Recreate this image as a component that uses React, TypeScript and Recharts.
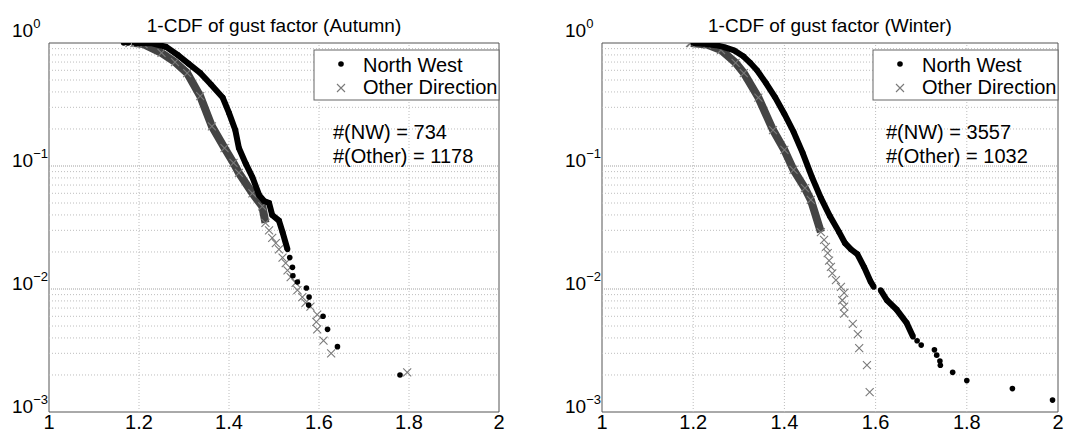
import React from 'react';
import { ScatterChart, Scatter, XAxis, YAxis, ReferenceLine, ReferenceArea } from 'recharts';

const FONT = '"Liberation Sans", Arial, sans-serif';

// ---------- data (x = gust factor, y = 1-CDF) ----------
const autumnNwBody: [number, number][] = [
  [1.19, 1.0], [1.229, 0.995], [1.26, 0.93], [1.286, 0.8], [1.31, 0.68], [1.336, 0.57],
  [1.36, 0.46], [1.386, 0.36], [1.4, 0.27], [1.414, 0.196], [1.422, 0.14], [1.437, 0.105],
  [1.452, 0.081], [1.467, 0.058], [1.478, 0.052], [1.489, 0.05], [1.496, 0.04], [1.511, 0.036],
  [1.519, 0.029], [1.53, 0.021],
];
const autumnNwSparse: [number, number][] = [
  [1.166, 1.0], [1.176, 1.0], [1.535, 0.018], [1.541, 0.015], [1.542, 0.0128], [1.552, 0.0114],
  [1.572, 0.0102], [1.578, 0.0086], [1.577, 0.0074], [1.609, 0.006], [1.619, 0.0047],
  [1.641, 0.0034], [1.78, 0.002],
];
const autumnOtherBody: [number, number][] = [
  [1.19, 1.0], [1.21, 0.98], [1.25, 0.83], [1.28, 0.7], [1.307, 0.57], [1.336, 0.37],
  [1.362, 0.21], [1.39, 0.14], [1.41, 0.106], [1.422, 0.088], [1.452, 0.06], [1.474, 0.047],
  [1.481, 0.0345],
];
const autumnOtherSparse: [number, number][] = [
  [1.179, 1.0], [1.489, 0.03], [1.496, 0.026], [1.504, 0.0236], [1.511, 0.021], [1.519, 0.018],
  [1.526, 0.0162], [1.53, 0.0142], [1.537, 0.0125], [1.548, 0.0112], [1.552, 0.0098],
  [1.563, 0.0086], [1.57, 0.0077], [1.581, 0.0072], [1.596, 0.0062], [1.594, 0.0054],
  [1.596, 0.0047], [1.61, 0.0038], [1.627, 0.003], [1.796, 0.0021],
];

const winterNwBody: [number, number][] = [
  [1.2, 1.0], [1.22, 0.99], [1.25, 0.96], [1.27, 0.92], [1.29, 0.87], [1.31, 0.78],
  [1.325, 0.69], [1.34, 0.6], [1.36, 0.47], [1.38, 0.36], [1.4, 0.265], [1.42, 0.19],
  [1.44, 0.128], [1.46, 0.082], [1.48, 0.055], [1.5, 0.039], [1.52, 0.029], [1.533, 0.0236],
  [1.546, 0.021], [1.56, 0.0192], [1.575, 0.015], [1.589, 0.0115], [1.596, 0.0104],
];
const winterNwBody2: [number, number][] = [
  [1.611, 0.0098], [1.625, 0.0081], [1.646, 0.0068], [1.668, 0.0053], [1.682, 0.0041],
];
const winterNwSparse: [number, number][] = [
  [1.691, 0.0038], [1.7, 0.0035], [1.729, 0.0032], [1.734, 0.0029], [1.741, 0.0026],
  [1.742, 0.0024], [1.769, 0.0021], [1.8, 0.0018], [1.9, 0.00155], [1.988, 0.00125],
];
const winterOtherBody: [number, number][] = [
  [1.195, 1.0], [1.23, 0.97], [1.261, 0.877], [1.293, 0.69], [1.311, 0.57], [1.343, 0.36],
  [1.375, 0.196], [1.4, 0.135], [1.42, 0.093], [1.445, 0.066], [1.458, 0.053], [1.48, 0.029],
];
const winterOtherSparse: [number, number][] = [
  [1.193, 1.0], [1.487, 0.0251], [1.491, 0.022], [1.495, 0.0196], [1.498, 0.017],
  [1.502, 0.0151], [1.505, 0.0134], [1.513, 0.0118], [1.524, 0.0104], [1.531, 0.0093],
  [1.527, 0.0081], [1.531, 0.0072], [1.531, 0.0063], [1.55, 0.0052], [1.561, 0.0043],
  [1.564, 0.0033], [1.581, 0.0024], [1.587, 0.00145],
];

const xTicks = [1, 1.2, 1.4, 1.6, 1.8, 2];
const xTickLabels = ['1', '1.2', '1.4', '1.6', '1.8', '2'];
const yTicks = [0.001, 0.01, 0.1, 1];
const yTickExponents = ['−3', '−2', '−1', '0'];
const gridX = [1.2, 1.4, 1.6, 1.8];
const gridYMinor = [
  0.002, 0.003, 0.004, 0.005, 0.006, 0.007, 0.008, 0.009,
  0.02, 0.03, 0.04, 0.05, 0.06, 0.07, 0.08, 0.09,
  0.2, 0.3, 0.4, 0.5, 0.6, 0.7, 0.8, 0.9,
];
const gridYMajor = [0.01, 0.1];

const seriesNames = ['North West', 'Other Direction'];

const toPts = (a: [number, number][]) => a.map(([x, y]) => ({ x, y }));

const Dot = (p: any) => <circle cx={p.cx} cy={p.cy} r={2.8} fill="#000" />;
const Cross = (p: any) => {
  const s = 4;
  const { cx, cy } = p;
  return (
    <path
      d={`M${cx - s},${cy - s}L${cx + s},${cy + s}M${cx - s},${cy + s}L${cx + s},${cy - s}`}
      stroke="#7a7a7a"
      strokeWidth={1.1}
      fill="none"
    />
  );
};

type PanelProps = {
  left: number;
  width: number;
  plotLeft: number;
  plotRight: number;
  title: string;
  nwCount: number;
  otherCount: number;
  nwBody: [number, number][];
  nwBody2?: [number, number][];
  nwSparse: [number, number][];
  otherBody: [number, number][];
  otherSparse: [number, number][];
};

function Panel(props: PanelProps) {
  const { left, width, plotLeft, plotRight, title } = props;
  const H = 434;
  const plotTop = 43;
  const xTick = (p: any) => {
    const i = xTicks.indexOf(p.payload.value);
    return (
      <text x={p.x} y={429} textAnchor="middle" fontSize={20} fontFamily={FONT} fill="#000">
        {xTickLabels[i]}
      </text>
    );
  };
  const yTick = (p: any) => {
    const i = yTicks.indexOf(p.payload.value);
    const base = p.payload.value === 1 ? p.y - 6 : p.y + 1;
    return (
      <text x={plotLeft - 37} y={base} fontSize={19} fontFamily={FONT} fill="#000">
        <tspan>10</tspan>
        <tspan dy={-9} fontSize={13}>{yTickExponents[i]}</tspan>
      </text>
    );
  };
  const legLeft = plotRight - 185;
  const cx = (plotLeft + plotRight) / 2;
  return (
    <div style={{ position: 'absolute', left, top: 0, width, height: H }}>
      <ScatterChart
        width={width}
        height={H}
        margin={{ top: plotTop, right: width - plotRight, bottom: 0, left: 0 }}
      >
        <XAxis
          type="number"
          dataKey="x"
          domain={[1, 2]}
          ticks={xTicks}
          interval={0}
          height={22}
          axisLine={false}
          tickLine={false}
          tick={xTick}
          allowDataOverflow
        />
        <YAxis
          type="number"
          dataKey="y"
          scale="log"
          domain={[0.001, 1]}
          ticks={yTicks}
          interval={0}
          width={plotLeft}
          axisLine={false}
          tickLine={false}
          tick={yTick}
          allowDataOverflow
        />
        {gridYMinor.map((v) => (
          <ReferenceLine key={'gy' + v} y={v} stroke="#bdbdbd" strokeDasharray="1 2" />
        ))}
        {gridYMajor.map((v) => (
          <ReferenceLine key={'GY' + v} y={v} stroke="#a0a0a0" strokeDasharray="1 1" />
        ))}
        {gridX.map((v) => (
          <ReferenceLine key={'gx' + v} x={v} stroke="#bdbdbd" strokeDasharray="1 2" />
        ))}
        <ReferenceArea x1={1} x2={2} y1={0.001} y2={1} fill="none" stroke="#555" strokeWidth={1} ifOverflow="visible" />
        <Scatter
          data={toPts(props.otherBody)}
          shape={Cross}
          line={{ stroke: '#444', strokeWidth: 8 }}
          isAnimationActive={false}
        />
        <Scatter data={toPts(props.otherSparse)} shape={Cross} isAnimationActive={false} />
        <Scatter
          data={toPts(props.nwBody)}
          shape={Dot}
          line={{ stroke: '#000', strokeWidth: 6 }}
          isAnimationActive={false}
        />
        {props.nwBody2 ? (
          <Scatter
            data={toPts(props.nwBody2)}
            shape={Dot}
            line={{ stroke: '#000', strokeWidth: 6 }}
            isAnimationActive={false}
          />
        ) : null}
        <Scatter data={toPts(props.nwSparse)} shape={Dot} isAnimationActive={false} />
      </ScatterChart>
      <svg
        width={width}
        height={H}
        style={{ position: 'absolute', left: 0, top: 0, pointerEvents: 'none' }}
      >
        <text x={cx} y={32} textAnchor="middle" fontSize={19} fontFamily={FONT} fill="#000">
          {title}
        </text>
        <rect x={legLeft} y={50} width={185} height={50} fill="#fff" stroke="#666" strokeWidth={1} />
        <circle cx={legLeft + 27} cy={64} r={2.8} fill="#000" />
        <path
          d={`M${legLeft + 23},${84}L${legLeft + 31},${92}M${legLeft + 23},${92}L${legLeft + 31},${84}`}
          stroke="#7a7a7a"
          strokeWidth={1.1}
        />
        <text x={legLeft + 49} y={72} fontSize={20} fontFamily={FONT} fill="#000">
          {seriesNames[0]}
        </text>
        <text x={legLeft + 49} y={94} fontSize={20} fontFamily={FONT} fill="#000">
          {seriesNames[1]}
        </text>
        <text x={plotLeft + 284} y={139} fontSize={20} fontFamily={FONT} fill="#000">
          {`#(NW) = ${props.nwCount}`}
        </text>
        <text x={plotLeft + 284} y={163} fontSize={20} fontFamily={FONT} fill="#000">
          {`#(Other) = ${props.otherCount}`}
        </text>
      </svg>
    </div>
  );
}

export default function App() {
  return (
    <div style={{ position: 'absolute', left: 0, top: 0, width: 1072, height: 434, background: '#fff', overflow: 'hidden' }}>
      <Panel
        left={0}
        width={540}
        plotLeft={49}
        plotRight={499}
        title="1-CDF of gust factor (Autumn)"
        nwCount={734}
        otherCount={1178}
        nwBody={autumnNwBody}
        nwSparse={autumnNwSparse}
        otherBody={autumnOtherBody}
        otherSparse={autumnOtherSparse}
      />
      <Panel
        left={540}
        width={532}
        plotLeft={62}
        plotRight={518}
        title="1-CDF of gust factor (Winter)"
        nwCount={3557}
        otherCount={1032}
        nwBody={winterNwBody}
        nwBody2={winterNwBody2}
        nwSparse={winterNwSparse}
        otherBody={winterOtherBody}
        otherSparse={winterOtherSparse}
      />
    </div>
  );
}
